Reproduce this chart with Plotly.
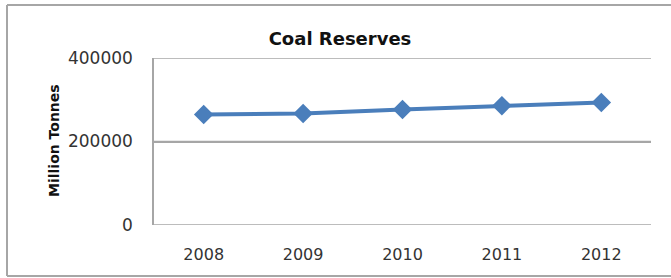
import plotly.graph_objects as go

years = ["2008", "2009", "2010", "2011", "2012"]
reserves = [264535, 267210, 276810, 285862, 293500]
y_ticks = [0, 200000, 400000]
y_tick_labels = ["0", "200000", "400000"]

W, H = 671, 278
L, R, T, B = 154, 651, 58, 225

fig = go.Figure()
fig.add_trace(go.Scatter(
    x=years, y=reserves, mode="lines+markers",
    line=dict(color="#4A7EBB", width=4),
    marker=dict(symbol="diamond", size=15, color="#4A7EBB"),
    showlegend=False, hoverinfo="x+y",
))

font = "DejaVu Sans"
grid = "#a6a6a6"


def px_x(p):
    return (p - L) / (R - L)


def px_y(p):
    return (B - p) / (B - T)


border = [
    (7, 5, 671, 5),      # top
    (7, 5, 7, 276),      # left
    (7, 276, 671, 276),  # bottom
]

fig.update_layout(
    width=W, height=H,
    margin=dict(l=L, r=W - R, t=T, b=H - B, pad=0),
    paper_bgcolor="white", plot_bgcolor="white",
    font=dict(family=font, size=16, color="#222222"),
    title=dict(text="<b>Coal Reserves</b>", x=340 / W, xref="container",
               xanchor="center", y=1 - 39 / H, yanchor="middle",
               font=dict(family=font, size=18, color="#111111")),
    xaxis=dict(type="category", range=[-0.5, 4.5], showgrid=False, zeroline=False,
               showline=False, ticks="", ticklabelstandoff=18,
               tickfont=dict(family=font, size=16, color="#333333")),
    yaxis=dict(range=[0, 400000], tickvals=y_ticks, ticktext=y_tick_labels,
               showgrid=True, gridcolor=grid, gridwidth=1.5,
               zeroline=False, showline=True, linecolor=grid, linewidth=1.5,
               ticks="", ticklabelstandoff=16, automargin=False,
               tickfont=dict(family=font, size=17, color="#333333")),
    shapes=[
        dict(type="line", xref="paper", yref="y", x0=0, x1=1, y0=v, y1=v,
             line=dict(color=grid, width=1.5), layer="below")
        for v in y_ticks
    ] + [
        dict(type="line", xref="paper", yref="paper",
             x0=px_x(a), y0=px_y(b), x1=px_x(c), y1=px_y(d),
             line=dict(color=grid, width=2), layer="below")
        for a, b, c, d in border
    ],
)
fig.add_annotation(text="<b>Million Tonnes</b>", xref="paper", yref="paper",
                   x=px_x(54), y=px_y(141), textangle=-90,
                   showarrow=False, xanchor="center", yanchor="middle",
                   font=dict(family=font, size=14, color="#111111"))
fig.write_html("out.html", config={"displayModeBar": False},
               post_script="document.body.style.margin='0';"
                           "document.body.style.overflow='hidden';")
